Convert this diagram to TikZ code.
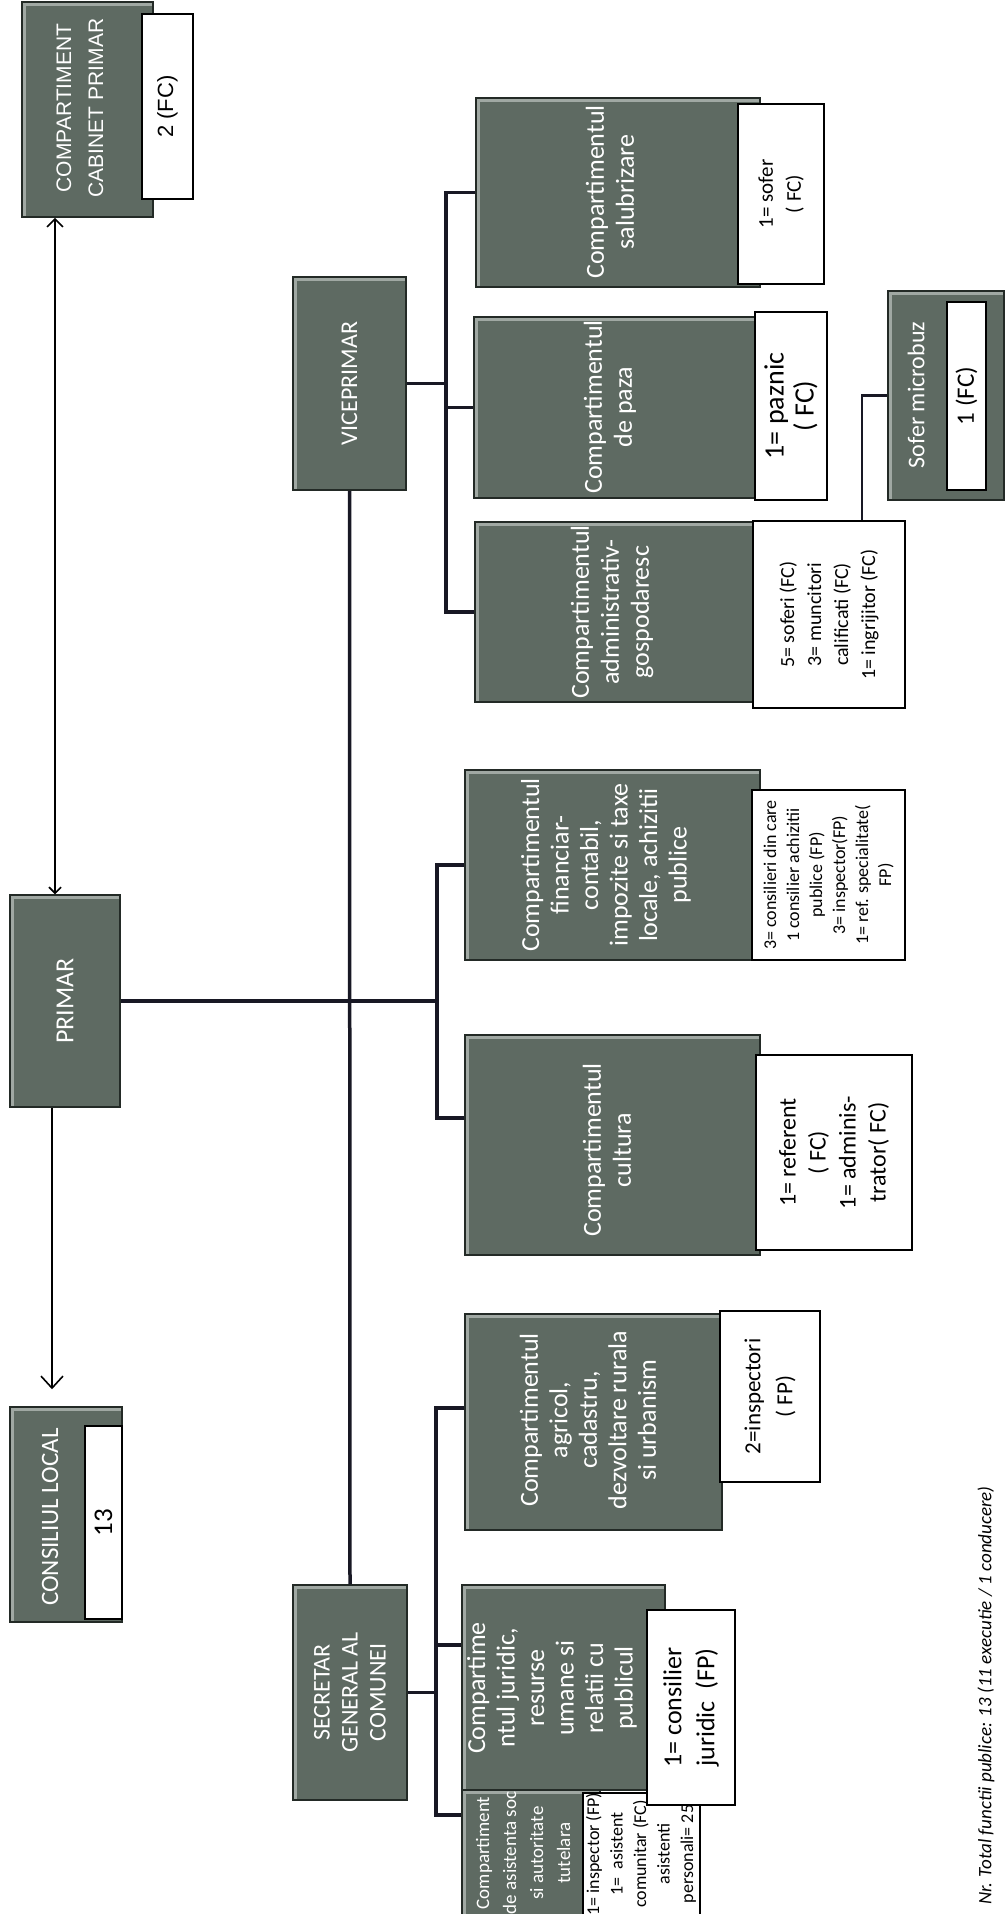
\documentclass[tikz,border=0pt]{standalone}
\usepackage{fontspec}
\setmainfont{Carlito}
\newfontfamily\arialf{Liberation Sans}
\usetikzlibrary{arrows.meta,calc}
\definecolor{boxfill}{RGB}{94,106,98}
\definecolor{boxedge}{RGB}{35,42,38}
\definecolor{conn}{RGB}{24,24,36}
\definecolor{bevel}{RGB}{160,168,163}
\newcommand\fs[2]{\fontsize{#1}{#2}\selectfont}
\newcommand\dbx[5]{\node[dbox, minimum width={(#4-#2)*1pt}, minimum height={(#5-#3)*1pt}] (#1) at ({(#2+#4)/2},{(#3+#5)/2}) {};}
\newcommand\lbx[5]{\node[lbox, minimum width={(#4-#2)*1pt}, minimum height={(#5-#3)*1pt}] (#1) at ({(#2+#4)/2},{(#3+#5)/2}) {};}
\tikzset{
 dbox/.style={draw=boxedge, fill=boxfill, line width=1.5pt, inner sep=0pt,
   path picture={\draw[bevel, line width=7pt] (path picture bounding box.south west) -- (path picture bounding box.north west) -- (path picture bounding box.north east);}},
 lbox/.style={draw=black, fill=white, line width=1.2pt, inner sep=0pt},
 wtext/.style={text=white, rotate=90, align=center, inner sep=0pt},
 btext/.style={text=black, rotate=90, align=center, inner sep=0pt},
 conline/.style={draw=conn, line width=3.5pt},
 arrline/.style={draw=black, line width=1.6pt},
}
\begin{document}
\begin{tikzpicture}[x=1pt,y=-1pt]
\clip (0,0) rectangle (1006,1914);
\fill[white] (0,0) rectangle (1006,1914);
% helper coordinates
\coordinate (cx) at (55,0);
\coordinate (lx) at (52,0);
\coordinate (pb) at (437,0);
\coordinate (vb) at (446,0);
\coordinate (sb) at (436,0);
\coordinate (sx) at (862,0);
\coordinate (cc) at (437,1118);
\coordinate (ac) at (436,1408);
\coordinate (jc) at (436,1645);
\coordinate (asc) at (436,1815);
% top-level boxes
\dbx{cab}{22}{2}{153}{217}
\lbx{cabl}{142}{14}{193}{199}
\node[wtext, font=\arialf\fs{21}{32}] (cabt) at (80,108) {COMPARTIMENT\\CABINET PRIMAR};
\node[btext, font=\arialf\fs{22}{26}] (cablt) at (cabl) {2 (FC)};

\dbx{pri}{10}{895}{120}{1107}
\node[wtext, font=\fs{26}{30}] (prit) at (pri) {PRIMAR};

\dbx{con}{10}{1407}{122}{1622}
\lbx{conl}{85}{1426}{122}{1619}
\node[wtext, font=\fs{25}{29}] (cont) at (50,1517) {CONSILIUL LOCAL};
\node[btext, font=\fs{27}{30}] (conlt) at (conl) {13};

\dbx{vice}{293}{277}{406}{490}
\node[wtext, font=\fs{24}{28}] (vicet) at (vice) {VICEPRIMAR};

\dbx{sec}{293}{1585}{407}{1800}
\node[wtext, font=\fs{24}{28}] (sect) at (sec) {SECRETAR\\GENERAL AL\\COMUNEI};

% VICEPRIMAR departments
\dbx{sal}{476}{98}{760}{287}
\lbx{sall}{738}{104}{824}{284}
\node[wtext, font=\fs{26}{30}] (salt) at (610,192) {Compartimentul\\salubrizare};
\node[btext, font=\fs{21}{28}] (sallt) at (sall) {1= sofer\\( FC)};

\dbx{paz}{474}{317}{758}{498}
\lbx{pazl}{755}{312}{827}{500}
\node[wtext, font=\fs{26}{30}] (pazt) at (610,407) {Compartimentul\\de paza};
\node[btext, font=\fs{28}{30}] (pazlt) at (pazl) {1= paznic\\( FC)};

\dbx{adm}{475}{522}{758}{702}
\lbx{adml}{753}{521}{905}{708}
\node[wtext, font=\fs{26}{30}] (admt) at (612,612) {Compartimentul\\administrativ-\\gospodaresc};
\node[btext, font=\fs{20}{27}] (admlt) at (adml) {5= soferi (FC)\\3= muncitori\\calificati (FC)\\1= ingrijitor (FC)};

\dbx{sof}{888}{291}{1004}{500}
\lbx{sofl}{947}{302}{986}{490}
\node[wtext, font=\fs{24}{28}] (soft) at (916,395) {Sofer microbuz};
\node[btext, font=\fs{25}{28}] (soflt) at (sofl) {1 (FC)};

% PRIMAR departments
\dbx{fin}{465}{770}{760}{960}
\lbx{finl}{752}{790}{905}{960}
\node[wtext, font=\fs{26}{29.5}] (fint) at (606,865) {Compartimentul\\financiar-\\contabil,\\impozite si taxe\\locale, achizitii\\publice};
\node[btext, font=\fs{18}{23}] (finlt) at (finl) {3= consilieri din care\\1 consilier achizitii\\publice (FP)\\3= inspector(FP)\\1= ref. specialitate(\\FP)};

\dbx{cul}{465}{1035}{760}{1255}
\lbx{cull}{756}{1055}{912}{1250}
\node[wtext, font=\fs{26}{30}] (cult) at (607,1150) {Compartimentul\\cultura};
\node[btext, font=\fs{24}{30}] (cullt) at (cull) {1= referent\\( FC)\\1= adminis-\\trator( FC)};

% SECRETAR departments
\dbx{agr}{465}{1314}{722}{1530}
\lbx{agrl}{720}{1311}{820}{1482}
\node[wtext, font=\fs{26}{29.5}] (agrt) at (588,1420) {Compartimentul\\agricol,\\cadastru,\\dezvoltare rurala\\si urbanism};
\node[btext, font=\fs{23}{32}] (agrlt) at (agrl) {2=inspectori\\( FP)};

\dbx{asi}{462}{1790}{600}{1940}
\lbx{asil}{583}{1793}{700}{1940}
\node[wtext, font=\fs{19}{27}] (asit) at (523,1853) {Compartiment\\de asistenta soc\\si autoritate\\tutelara};
\node[btext, font=\fs{18}{23.5}] (asilt) at (641,1854) {1= inspector (FP)\\1=\ \ asistent\\comunitar (FC)\\asistenti\\personali= 25};

\dbx{jur}{462}{1585}{665}{1790}
\lbx{jurl}{647}{1610}{735}{1805}
\node[wtext, font=\fs{26}{29.5}] (jurt) at (552,1688) {Compartime\\ntul juridic,\\resurse\\umane si\\relatii cu\\publicul};
\node[btext, font=\fs{26}{33}] (jurlt) at (jurl) {1= consilier\\juridic\ \ (FP)};

% connectors
\draw[conline] (pri.east) -- (pri.east -| pb);
\draw[conline] (vice.south) -- (sec.north);
\draw[conline] (fin.west) -- (fin.west -| pb) -- (cc) -- (cc -| cul.west);
\draw[conline] (vice.east) -- (vice.east -| vb);
\draw[conline] (sal.west) -- (sal.west -| vb) -- (adm.west -| vb) -- (adm.west);
\draw[conline] (paz.west -| vb) -- (paz.west);
\draw[conline] (ac -| agr.west) -- (ac) -- (asc) -- (asc -| asi.west);
\draw[conline] (jc) -- (jc -| jur.west);
\draw[conline] (sec.east) -- (sec.east -| sb);
\draw[conline, line width=2.5pt] (adml.north -| sx) |- (sof.west);
% arrows
\draw[arrline, {Straight Barb[length=6pt,width=12pt]}-{Straight Barb[length=8pt,width=16pt]}] (pri.north -| cx) -- (cab.south -| cx);
\draw[arrline, -{Straight Barb[length=12pt,width=22pt]}, shorten >=17pt] (pri.south -| lx) -- (con.north -| lx);
% footnote
\node[rotate=90, anchor=west, inner sep=0pt, font=\itshape\fs{19}{22}] (note) at (986,1905) {Nr. Total functii publice: 13 (11 executie / 1 conducere)};
\end{tikzpicture}
\end{document}
